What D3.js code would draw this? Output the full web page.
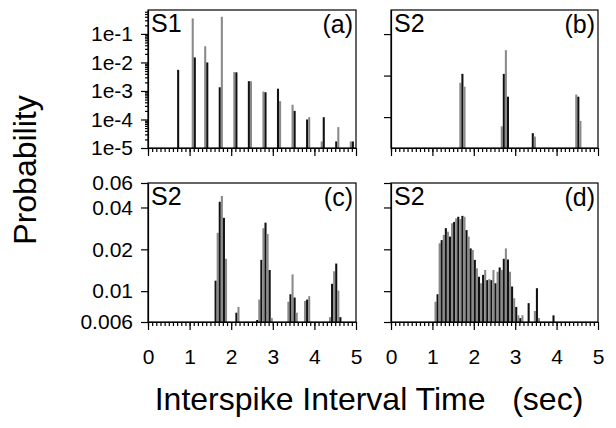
<!DOCTYPE html>
<html>
<head>
<meta charset="utf-8">
<script src="https://cdn.jsdelivr.net/npm/d3@7"></script>
<style>
body { margin: 0; background: #fff; }
text { font-family: "Liberation Sans", Arial, sans-serif; fill: #000; }
</style>
</head>
<body>
<div id="chart"></div>
<script>
// SVG
var svgWidth = 616;
var svgHeight = 428;

// histogram bin width (sec)
var binW = 0.05;
var xTicks = [0, 1, 2, 3, 4, 5];

// (a) S1 - bin start times and probabilities
var tA = [0.70, 1.05, 1.10, 1.35, 1.40, 1.70, 1.75, 2.05, 2.10, 2.40, 2.45, 2.75, 2.80,
          3.10, 3.15, 3.45, 3.50, 3.80, 3.85, 4.15, 4.20, 4.50, 4.55, 4.85, 4.90];
var pA = [5.5e-3, 0.35, 0.015, 0.037, 0.010, 1.35e-3, 0.40, 4.6e-3, 4.5e-3, 2.2e-3, 2.2e-3, 9.6e-4, 9.0e-4,
          1.2e-3, 4.4e-4, 3.3e-4, 2.0e-4, 1.0e-4, 1.2e-4, 1.7e-5, 1.2e-4, 1.7e-5, 5.4e-5, 1.7e-5, 1.7e-5];

// (b) S2
var tB = [1.65, 1.70, 1.75, 2.65, 2.70, 2.75, 2.80, 3.40, 3.45, 4.45, 4.50, 4.55];
var pB = [6.7e-3, 1.1e-2, 5.4e-3, 6.0e-4, 1.1e-2, 0.041, 3.1e-3, 4.1e-4, 3.4e-4, 3.5e-3, 3.1e-3, 8.1e-4];

// (c) S2
var tC = [1.60, 1.65, 1.70, 1.75, 1.80, 1.85, 2.10, 2.15,
          2.60, 2.65, 2.70, 2.75, 2.80, 2.85, 2.90, 2.95,
          3.35, 3.40, 3.45, 3.50, 3.55, 3.75, 3.80, 3.85,
          4.35, 4.40, 4.45, 4.50, 4.55, 4.60];
var pC = [0.0119, 0.0263, 0.0440, 0.0484, 0.0337, 0.0171, 0.0070, 0.0077,
          0.0062, 0.0087, 0.0168, 0.0284, 0.0311, 0.0258, 0.0142, 0.0064,
          0.0084, 0.0095, 0.0132, 0.0090, 0.0070, 0.0085, 0.0087, 0.0092,
          0.0065, 0.0113, 0.0139, 0.0158, 0.0101, 0.0065];

// (d) S2
var tD = [1.05, 1.10, 1.15, 1.20, 1.25, 1.30, 1.35, 1.40, 1.45, 1.50, 1.55, 1.60, 1.65, 1.70,
          1.75, 1.80, 1.85, 1.90, 1.95, 2.00, 2.05, 2.10, 2.15, 2.20, 2.25, 2.30, 2.35, 2.40,
          2.45, 2.50, 2.55, 2.60, 2.65, 2.70, 2.75, 2.80, 2.85, 2.90, 2.95, 3.00, 3.05, 3.10,
          3.15, 3.30, 3.45, 3.50, 3.55, 3.90];
var pD = [0.0084, 0.0095, 0.0221, 0.0233, 0.0254, 0.0284, 0.0268, 0.0247, 0.0308, 0.0315, 0.0334, 0.0343, 0.0330, 0.0348,
          0.0343, 0.0275, 0.0247, 0.0203, 0.0198, 0.0168, 0.0146, 0.0127, 0.0114, 0.0131, 0.0142, 0.0120, 0.0122, 0.0120,
          0.0142, 0.0114, 0.0138, 0.0148, 0.0142, 0.0171, 0.0203, 0.0169, 0.0138, 0.0108, 0.0089, 0.0077, 0.0067, 0.0064,
          0.0067, 0.0082, 0.0072, 0.0105, 0.0064, 0.0067];

// y ticks
var yTicksA = [1e-1, 1e-2, 1e-3, 1e-4, 1e-5];
var yLabelsA = ["1e-1", "1e-2", "1e-3", "1e-4", "1e-5"];
var yTicksB = [1e-1, 1e-2, 1e-3];
var yTicksCD = [0.06, 0.04, 0.02, 0.01, 0.006];
var yLabelsCD = ["0.06", "0.04", "0.02", "0.01", "0.006"];

var panels = [
    { name: "S1", tag: "(a)", t: tA, p: pA, domain: [1e-5, 0.69], ticks: yTicksA, labels: yLabelsA, minor: true, xlab: false, box: [148, 10, 356, 148] },
    { name: "S2", tag: "(b)", t: tB, p: pB, domain: [1.8e-4, 0.38], ticks: yTicksB, labels: null, minor: false, xlab: false, box: [391, 10, 598, 148] },
    { name: "S2", tag: "(c)", t: tC, p: pC, domain: [0.006, 0.06], ticks: yTicksCD, labels: yLabelsCD, minor: false, xlab: true, box: [148, 183, 356, 322] },
    { name: "S2", tag: "(d)", t: tD, p: pD, domain: [0.006, 0.06], ticks: yTicksCD, labels: null, minor: false, xlab: true, box: [391, 183, 598, 322] }
];

var svg = d3.select("#chart")
    .append("svg")
    .attr("width", svgWidth)
    .attr("height", svgHeight);

function drawPanel(cfg) {
    var w = cfg.box[2] - cfg.box[0];
    var h = cfg.box[3] - cfg.box[1];
    var g = svg.append("g")
        .attr("transform", `translate(${cfg.box[0]}, ${cfg.box[1]})`);

    var x = d3.scaleLinear().domain([0, 5]).range([0, w]);
    var y = d3.scaleLog().domain(cfg.domain).range([h, 0]);

    // bars
    g.selectAll("rect.bar")
        .data(cfg.t.map((t, i) => ({ t: t, p: cfg.p[i] })))
        .enter()
        .append("rect")
        .attr("class", "bar")
        .attr("x", d => x(d.t))
        .attr("width", d => x(d.t + binW) - x(d.t))
        .attr("y", d => y(d.p))
        .attr("height", d => h - y(d.p))
        .attr("fill", d => Math.round(d.t / binW) % 2 ? "#8a8a8a" : "#111");

    // minor x ticks
    g.append("g")
        .attr("transform", `translate(0, ${h})`)
        .call(d3.axisBottom(x).tickValues(d3.range(0, 50).map(i => i / 10)).tickSize(4).tickFormat(""))
        .call(a => a.select(".domain").remove());

    // major x ticks
    var xAxis = g.append("g")
        .attr("transform", `translate(0, ${h})`)
        .call(d3.axisBottom(x).tickValues(xTicks).tickSize(8).tickSizeOuter(0).tickPadding(19)
            .tickFormat(cfg.xlab ? d3.format("d") : ""));
    xAxis.selectAll("text").attr("font-size", 21);

    // minor y ticks (log)
    if (cfg.minor) {
        var minorVals = [];
        cfg.ticks.forEach(dec => {
            for (var m = 2; m <= 9; m++) {
                if (dec * m < cfg.domain[1]) minorVals.push(dec * m);
            }
        });
        g.append("g")
            .call(d3.axisLeft(y).tickValues(minorVals).tickSize(3).tickFormat(""))
            .call(a => a.select(".domain").remove());
    }

    var yAxis = g.append("g")
        .call(d3.axisLeft(y).tickValues(cfg.ticks).tickSize(7).tickSizeOuter(0).tickPadding(8)
            .tickFormat((d, i) => cfg.labels ? cfg.labels[i] : ""));
    yAxis.selectAll("text").attr("font-size", 21);

    g.selectAll(".domain, .tick line").attr("stroke", "#000").attr("stroke-width", 1.2);

    // frame
    g.append("rect")
        .attr("width", w)
        .attr("height", h)
        .attr("fill", "none")
        .attr("stroke", "#000")
        .attr("stroke-width", 1.2);

    g.append("text")
        .attr("x", 3)
        .attr("y", 22)
        .attr("font-size", 25)
        .text(cfg.name);

    g.append("text")
        .attr("x", w - 3)
        .attr("y", 23)
        .attr("text-anchor", "end")
        .attr("font-size", 25)
        .text(cfg.tag);
}

panels.forEach(drawPanel);

// axis titles
svg.append("text")
    .attr("transform", "translate(36, 170) rotate(-90)")
    .attr("text-anchor", "middle")
    .attr("font-size", 32)
    .text("Probability");

svg.append("text")
    .attr("x", 369)
    .attr("y", 410)
    .attr("text-anchor", "middle")
    .attr("font-size", 32)
    .style("white-space", "pre")
    .text("Interspike Interval Time   (sec)");
</script>
</body>
</html>
